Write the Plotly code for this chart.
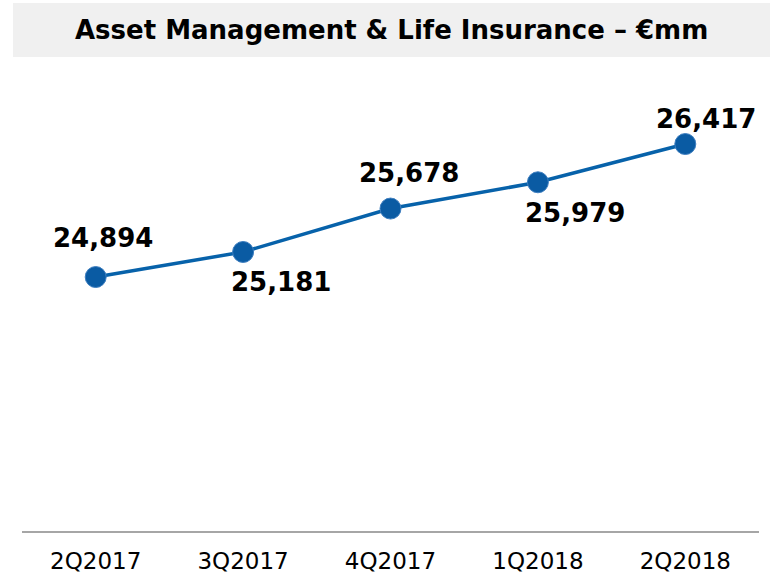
import plotly.graph_objects as go

categories = ["2Q2017", "3Q2017", "4Q2017", "1Q2018", "2Q2018"]
values = [24894, 25181, 25678, 25979, 26417]
title_text = "Asset Management &amp; Life Insurance – €mm"

# label offsets in pixels (layout only)
label_offsets = [(7, 39), (38, -30), (18, 36), (37, -31), (21, 25)]

FONT = "DejaVu Sans"
fig = go.Figure()
fig.add_trace(go.Scatter(
    x=categories, y=values, mode="lines+markers",
    line=dict(color="#0762aa", width=3.5),
    marker=dict(size=21, color="#0a5ba3", line=dict(color="#3f7fc0", width=1)),
    hoverinfo="skip", showlegend=False,
))

for c, v, (xs, ys) in zip(categories, values, label_offsets):
    fig.add_annotation(x=c, y=v, text=f"<b>{v:,}</b>", showarrow=False,
                       xshift=xs, yshift=ys,
                       font=dict(family=FONT, size=26, color="#000000"))

# title box
fig.add_shape(type="rect", xref="paper", yref="paper",
              x0=-0.0122, x1=1.0149, y0=1.0064, y1=1.121,
              fillcolor="#f0f0f0", line=dict(width=0), layer="below")
fig.add_annotation(xref="paper", yref="paper", x=0.5014, y=1.0637,
                   xanchor="center", yanchor="middle",
                   text=f"<b>{title_text}</b>", showarrow=False,
                   font=dict(family=FONT, size=26, color="#000000"))

fig.update_layout(
    width=776, height=574,
    margin=dict(l=22, r=17, t=60, b=43, autoexpand=False),
    paper_bgcolor="white", plot_bgcolor="white",
    xaxis=dict(type="category", range=[-0.5, 4.5], showgrid=False,
               showline=True, linecolor="#a6a6a6", linewidth=1.5,
               ticks="", ticklabelstandoff=9,
               tickfont=dict(family=FONT, size=23, color="#000000"),
               zeroline=False, automargin=False),
    yaxis=dict(range=[21986, 27379], showgrid=False, showticklabels=False,
               zeroline=False, showline=False, automargin=False),
)
fig.write_html("out.html", config={"displayModeBar": False},
               post_script="document.body.style.margin='0';document.body.style.overflow='hidden';")
